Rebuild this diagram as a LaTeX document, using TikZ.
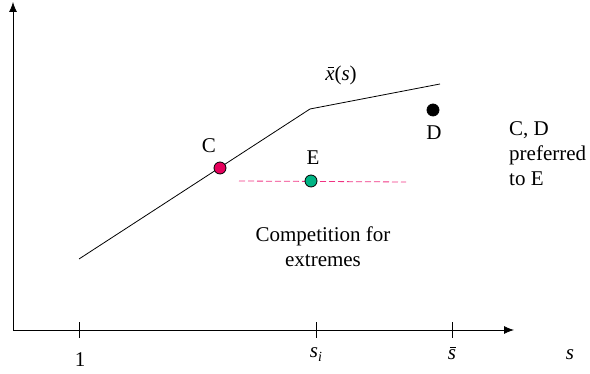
\documentclass[tikz,border=0pt]{standalone}
\usepackage{fontspec}
\setmainfont{Liberation Serif}
\usepackage{xcolor}
\usetikzlibrary{arrows.meta}
\definecolor{cdot}{RGB}{230,0,92}
\definecolor{edot}{RGB}{0,180,132}
\definecolor{edash}{RGB}{240,50,130}
\newcommand{\barit}[1]{\ooalign{\textit{#1}\cr\hidewidth\kern2pt\rule[12.5pt]{6.5pt}{0.9pt}\hidewidth\cr}}

\begin{document}
\begin{tikzpicture}[x=1pt,y=1pt,every node/.style={font=\fontsize{21}{25}\selectfont},
    dot/.style={circle,draw,line width=0.8pt,inner sep=0pt,minimum size=12pt}]
  \useasboundingbox (0,0) rectangle (590,374);
  % axes
  \coordinate (O) at (13,44);
  \coordinate (ytop) at (13,372);
  \coordinate (xend) at (514,44);
  \draw[line width=0.8pt,-{Latex[length=10pt,width=8pt]}] (O) -- (ytop);
  \draw[line width=0.8pt,-{Latex[length=10pt,width=8pt]}] (O) -- (xend);
  \foreach \x/\name in {79/one,316/si,452/sbar}{
    \coordinate (t\name) at (\x,44);
    \draw[line width=0.8pt] ([yshift=-8pt]t\name) -- ([yshift=8pt]t\name);
  }
  \node (lone) at (80,14) {1};
  \node (lsi) at (316,19) {\textit{s}\raisebox{-4pt}{\fontsize{14}{16}\selectfont\textit{i}}};
  \node (lsbar) at (452,19) {\barit{s}};
  \node (ls) at (570,19) {\textit{s}};
  % upper bound x(s)
  \coordinate (xa) at (79,115);
  \coordinate (xk) at (310,265);
  \coordinate (xb) at (440,290);
  \draw[line width=0.8pt] (xa) -- (xk) -- (xb);
  \node (lx) at (341,299) {\barit{x}(\textit{s})};
  % E and its dashed line
  \coordinate (e1) at (239,193);
  \coordinate (e2) at (406,192);
  \draw[edash,dash pattern=on 6pt off 3pt,line width=0.8pt] (e1) -- (e2);
  \node[dot,fill=cdot] (C) at (220,206) {};
  \node[dot,fill=edot] (E) at (311,193) {};
  \node[dot,fill=black] (D) at (433,264) {};
  \node (lC) at (209,228) {C};
  \node (lE) at (313,216) {E};
  \node (lD) at (434,241) {D};
  \node[align=left,anchor=west,inner sep=0pt] (pref) at (509,220) {C, D\\preferred\\to E};
  \node[align=center] (comp) at (323,127) {Competition for\\extremes};
\end{tikzpicture}
\end{document}
